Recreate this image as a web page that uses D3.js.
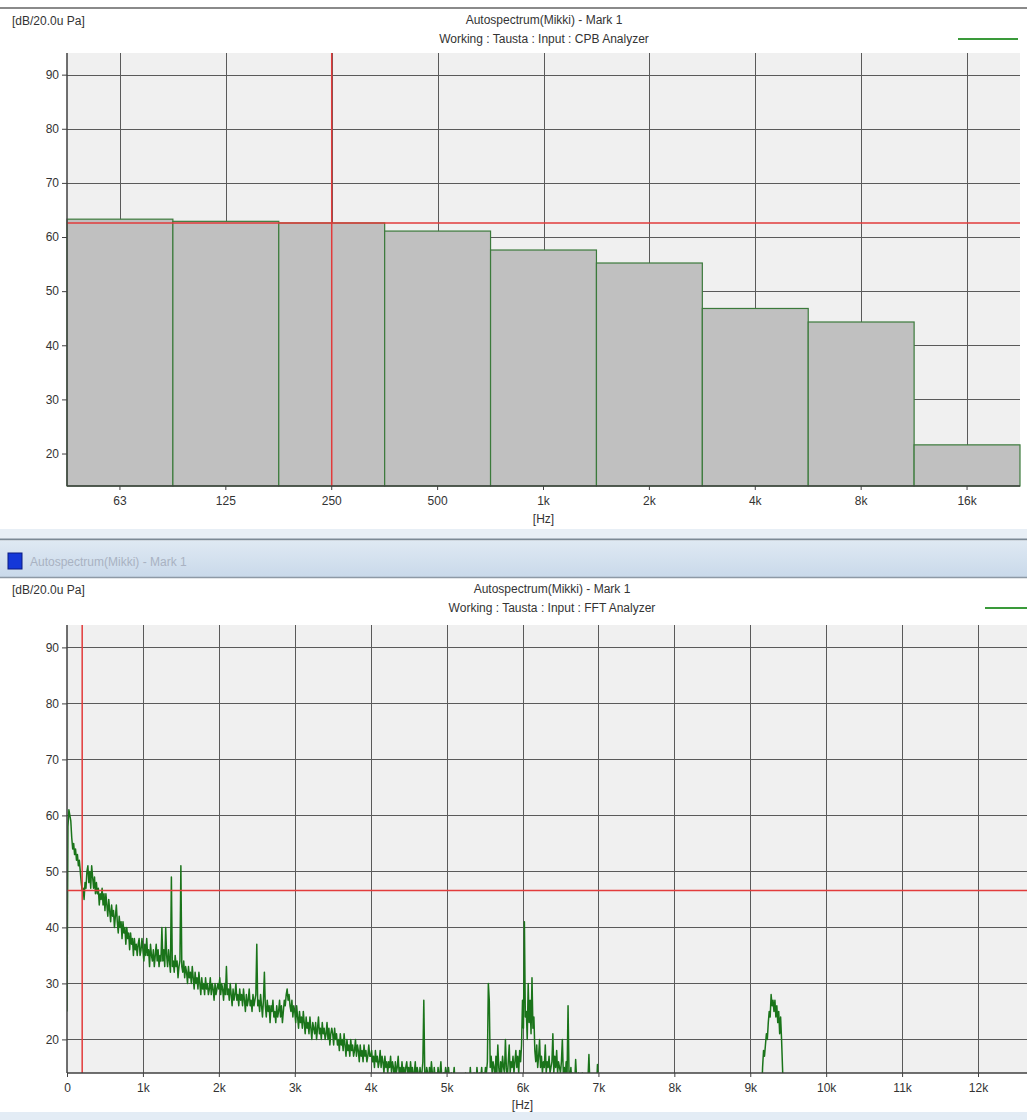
<!DOCTYPE html>
<html>
<head>
<meta charset="utf-8">
<script src="https://cdn.jsdelivr.net/npm/d3@7"></script>
<style>
  html, body { margin: 0; padding: 0; background: #fff; }
  svg text { font-family: "Liberation Sans", Arial, sans-serif; }
</style>
</head>
<body>
<svg id="chart" width="1027" height="1120"></svg>
<script>
// ---- CPB analyzer: octave band levels [dB re 20 uPa] ----
const cpbBands = ["63", "125", "250", "500", "1k", "2k", "4k", "8k", "16k"];
const cpbLevels = [63.3, 62.9, 62.6, 61.1, 57.6, 55.2, 46.8, 44.3, 21.6];
const cpbCursorBand = "250";

// ---- shared level axis ----
const levelTicks = [20, 30, 40, 50, 60, 70, 80, 90];
const levelDomain = [14, 94];

// ---- FFT analyzer: one level per 12.5 Hz line, starting at 0 Hz (one row = 500 Hz) ----
const fftLineHz = 12.5;
const fftLevels = [
  25, 58, 61, 60, 59, 56, 54, 55, 53, 54, 52, 53, 51, 52, 50, 48, 46.6, 47, 45, 48, 47, 50, 51, 48, 50, 47, 51, 49, 47, 49, 46, 48, 46, 47, 44, 46, 45, 47, 44, 46,
  43, 46, 44, 42, 45, 43, 41, 44, 42, 43, 40, 42, 44, 41, 39, 42, 40, 41, 38, 41, 39, 40, 37, 40, 38, 39, 36, 39, 37, 38, 35, 38, 36, 37, 35, 37, 38, 35, 36, 38,
  36, 34, 37, 35, 38, 35, 36, 33, 37, 35, 34, 36, 33, 35, 37, 34, 36, 33, 35, 34, 40, 34, 36, 33, 40, 35, 33, 36, 34, 32, 49, 33, 34, 32, 35, 33, 34, 31, 33, 34,
  51, 33, 32, 34, 31, 33, 32, 30, 33, 31, 32, 30, 33, 31, 29, 32, 30, 31, 29, 32, 30, 28, 31, 29, 30, 28, 31, 29, 30, 28, 29, 31, 28, 30, 29, 27, 30, 28, 29, 30,
  29, 31, 28, 30, 29, 27, 30, 28, 33, 28, 29, 27, 30, 28, 26, 29, 27, 28, 30, 27, 28, 26, 29, 27, 28, 26, 29, 27, 25, 28, 26, 27, 29, 26, 27, 25, 28, 26, 27, 28,
  37, 26, 27, 25, 28, 26, 24, 27, 32, 26, 24, 27, 25, 26, 23, 26, 25, 27, 24, 25, 23, 26, 24, 25, 27, 24, 26, 23, 25, 27, 26, 28, 29, 27, 28, 26, 25, 27, 24, 26,
  25, 23, 26, 24, 22, 25, 23, 24, 22, 25, 23, 21, 24, 22, 23, 21, 24, 22, 20, 23, 22, 21, 23, 20, 22, 24, 21, 22, 20, 23, 21, 22, 20, 21, 23, 20, 22, 19, 21, 22,
  21, 19, 22, 20, 21, 19, 20, 18, 21, 19, 20, 18, 21, 19, 17, 20, 18, 19, 17, 20, 18, 19, 17, 18, 20, 17, 19, 18, 16, 19, 17, 18, 16, 19, 17, 18, 16, 17, 19, 17,
  17, 18, 16, 17, 15, 18, 16, 17, 15, 16, 18, 15, 17, 16, 14, 17, 15, 16, 14, 16, 15, 17, 14, 16, 15, 13, 16, 14, 15, 17, 14, 15, 13, 16, 14, 15, 13, 15, 16, 14,
  15, 13, 16, 14, 15, 13, 14, 16, 13, 15, 14, 12, 15, 13, 14, 16, 27, 14, 13, 15, 14, 12, 15, 13, 16, 14, 12, 15, 13, 14, 12, 15, 13, 14, 16, 13, 12, 14, 13, 15,
  14, 12, 15, 13, 11, 14, 12, 13, 15, 12, 11, 13, 12, 10, 12, 11, 13, 10, 12, 11, 14, 12, 11, 13, 12, 15, 12, 13, 11, 14, 13, 12, 15, 13, 12, 14, 13, 15, 12, 14,
  13, 15, 14, 16, 30, 27, 15, 17, 14, 16, 15, 13, 17, 14, 19, 15, 13, 16, 14, 17, 15, 14, 20, 15, 13, 16, 19, 14, 16, 15, 17, 14, 16, 18, 15, 17, 14, 18, 16, 19,
  27, 22, 41, 24, 25, 20, 30, 23, 27, 21, 31, 22, 24, 18, 16, 19, 15, 17, 20, 15, 17, 14, 16, 15, 19, 14, 16, 15, 17, 14, 15, 16, 21, 14, 17, 15, 18, 14, 16, 15,
  14, 16, 20, 14, 15, 13, 16, 14, 26, 14, 13, 15, 12, 14, 13, 12, 16.4, 13, 12, 14, 12, 13, 11, 14, 12, 11, 13, 12, 11, 13, 17.3, 12, 11, 13, 12, 11, 12, 13, 11, 15.5,
  11, 9
];
// tone around 9.3 kHz, same line spacing
const fftToneStartHz = 9150;
const fftToneLevels = [10, 15, 18, 17, 19, 21, 20, 23, 25, 24, 28, 26, 27, 25, 27, 24, 26, 23, 25, 21, 24, 20, 15, 10];

const fftTicksHz = [0, 1000, 2000, 3000, 4000, 5000, 6000, 7000, 8000, 9000, 10000, 11000, 12000];
const fftTickLabels = ["0", "1k", "2k", "3k", "4k", "5k", "6k", "7k", "8k", "9k", "10k", "11k", "12k"];
const fftCursorHz = 200;

// ---- texts ----
const unitLabel = "[dB/20.0u Pa]";
const titleLine = "Autospectrum(Mikki) - Mark 1";
const cpbSubtitle = "Working : Tausta : Input : CPB Analyzer";
const fftSubtitle = "Working : Tausta : Input : FFT Analyzer";
const freqUnit = "[Hz]";

// ---- styling ----
const C = {
  plotBg: "#f0f0f0",
  grid: "#5a5a5a",
  axis: "#404040",
  text: "#333",
  bar: "#c0c0c0",
  barEdge: "#3b7a3b",
  trace: "#1a741a",
  cursor: "#e23b3b",
  legend: "#3a9a3a"
};

const svg = d3.select("#chart");

// ---------- window chrome ----------
svg.append("rect").attr("x", 0).attr("y", 0).attr("width", 1027).attr("height", 1120).attr("fill", "#fff");
svg.append("line").attr("x1", 0).attr("x2", 1027).attr("y1", 8).attr("y2", 8)
  .attr("stroke", "#8a8a8a").attr("stroke-width", 2);

const defs = svg.append("defs");
const grad = defs.append("linearGradient").attr("id", "barGrad").attr("x1", 0).attr("x2", 0).attr("y1", 0).attr("y2", 1);
grad.append("stop").attr("offset", "0%").attr("stop-color", "#dfe9f3");
grad.append("stop").attr("offset", "100%").attr("stop-color", "#c9d9ea");

svg.append("rect").attr("x", 0).attr("y", 529).attr("width", 1027).attr("height", 10).attr("fill", "#e8eff6");
svg.append("line").attr("x1", 0).attr("x2", 1027).attr("y1", 539.5).attr("y2", 539.5)
  .attr("stroke", "#7c8995").attr("stroke-width", 2);
svg.append("rect").attr("x", 0).attr("y", 540.5).attr("width", 1027).attr("height", 36.5).attr("fill", "url(#barGrad)");
svg.append("line").attr("x1", 0).attr("x2", 1027).attr("y1", 577.5).attr("y2", 577.5)
  .attr("stroke", "#8d99a5").attr("stroke-width", 1.5);
svg.append("rect").attr("x", 8).attr("y", 553).attr("width", 14).attr("height", 16)
  .attr("fill", "#1438d8").attr("stroke", "#0a1a80").attr("stroke-width", 1);
svg.append("text").attr("x", 30).attr("y", 566).attr("font-size", 12).attr("fill", "#a9b2c2").text(titleLine);
svg.append("rect").attr("x", 0).attr("y", 1112).attr("width", 1027).attr("height", 8).attr("fill", "#e3ecf5");

// ---------- panel header ----------
function header(y0, subtitle, cx, legendX1, legendX2) {
  svg.append("text").attr("x", 12).attr("y", y0 + 5).attr("font-size", 12).attr("fill", C.text).text(unitLabel);
  svg.append("text").attr("x", cx).attr("y", y0 + 4).attr("text-anchor", "middle")
    .attr("font-size", 12).attr("fill", C.text).text(titleLine);
  svg.append("text").attr("x", cx).attr("y", y0 + 23).attr("text-anchor", "middle")
    .attr("font-size", 12).attr("fill", C.text).text(subtitle);
  svg.append("line").attr("x1", legendX1).attr("x2", legendX2).attr("y1", y0 + 19).attr("y2", y0 + 19)
    .attr("stroke", C.legend).attr("stroke-width", 2);
}

function styleAxis(g) {
  g.selectAll("path.domain").remove();
  g.selectAll(".tick line").attr("stroke", C.axis);
  g.selectAll(".tick text").attr("fill", C.text).attr("font-size", 12)
    .attr("font-family", "\"Liberation Sans\", Arial, sans-serif");
}

// ================= CPB panel =================
{
  const P = { left: 67, right: 1020, top: 53, bottom: 486 };
  header(20, cpbSubtitle, 544, 958, 1018);

  const x = d3.scaleBand().domain(cpbBands).range([P.left, P.right]).padding(0);
  const y = d3.scaleLinear().domain(levelDomain).range([P.bottom, P.top]);

  svg.append("rect").attr("x", P.left).attr("y", P.top)
    .attr("width", P.right - P.left).attr("height", P.bottom - P.top).attr("fill", C.plotBg);

  // grid
  svg.append("g").selectAll("line").data(levelTicks).join("line")
    .attr("x1", P.left).attr("x2", P.right)
    .attr("y1", d => Math.round(y(d)) + 0.5).attr("y2", d => Math.round(y(d)) + 0.5)
    .attr("stroke", C.grid).attr("stroke-width", 1);
  svg.append("g").selectAll("line").data(cpbBands).join("line")
    .attr("x1", d => Math.round(x(d) + x.bandwidth() / 2) + 0.5)
    .attr("x2", d => Math.round(x(d) + x.bandwidth() / 2) + 0.5)
    .attr("y1", P.top).attr("y2", P.bottom)
    .attr("stroke", C.grid).attr("stroke-width", 1);

  // bars
  svg.append("g").selectAll("rect").data(cpbBands).join("rect")
    .attr("x", d => x(d))
    .attr("y", (d, i) => y(cpbLevels[i]))
    .attr("width", x.bandwidth())
    .attr("height", (d, i) => P.bottom - y(cpbLevels[i]))
    .attr("fill", C.bar).attr("stroke", C.barEdge).attr("stroke-width", 1.2);

  // cursor
  const cIdx = cpbBands.indexOf(cpbCursorBand);
  const cx = x(cpbCursorBand) + x.bandwidth() / 2;
  svg.append("line").attr("x1", cx).attr("x2", cx).attr("y1", P.top).attr("y2", P.bottom)
    .attr("stroke", C.cursor).attr("stroke-width", 1.5);
  svg.append("line").attr("x1", P.left).attr("x2", P.right)
    .attr("y1", y(cpbLevels[cIdx])).attr("y2", y(cpbLevels[cIdx]))
    .attr("stroke", C.cursor).attr("stroke-width", 1.5);

  // axes
  svg.append("line").attr("x1", P.left).attr("x2", P.left).attr("y1", P.top).attr("y2", P.bottom)
    .attr("stroke", C.axis).attr("stroke-width", 1.5);
  svg.append("line").attr("x1", P.left).attr("x2", P.right).attr("y1", P.bottom).attr("y2", P.bottom)
    .attr("stroke", C.axis).attr("stroke-width", 1.5);

  const ya = svg.append("g").attr("transform", `translate(${P.left},0)`)
    .call(d3.axisLeft(y).tickValues(levelTicks).tickSize(5).tickPadding(3).tickSizeOuter(0));
  styleAxis(ya);
  const xa = svg.append("g").attr("transform", `translate(0,${P.bottom})`)
    .call(d3.axisBottom(x).tickSize(4).tickPadding(6).tickSizeOuter(0));
  styleAxis(xa);

  svg.append("text").attr("x", x("1k") + x.bandwidth() / 2).attr("y", 523)
    .attr("text-anchor", "middle").attr("font-size", 12).attr("fill", C.text).text(freqUnit);
}

// ================= FFT panel =================
{
  const P = { left: 67, right: 1027, top: 625, bottom: 1073 };
  header(589, fftSubtitle, 552, 985, 1027);

  const x = d3.scaleLinear().domain([0, 12000]).range([P.left, 978]);
  const y = d3.scaleLinear().domain(levelDomain).range([P.bottom, P.top]);

  svg.append("rect").attr("x", P.left).attr("y", P.top)
    .attr("width", P.right - P.left).attr("height", P.bottom - P.top).attr("fill", C.plotBg);

  defs.append("clipPath").attr("id", "fftClip").append("rect")
    .attr("x", P.left).attr("y", P.top).attr("width", P.right - P.left).attr("height", P.bottom - P.top);

  // grid
  svg.append("g").selectAll("line").data(levelTicks).join("line")
    .attr("x1", P.left).attr("x2", P.right)
    .attr("y1", d => Math.round(y(d)) + 0.5).attr("y2", d => Math.round(y(d)) + 0.5)
    .attr("stroke", C.grid).attr("stroke-width", 1);
  svg.append("g").selectAll("line").data(fftTicksHz.slice(1)).join("line")
    .attr("x1", d => Math.round(x(d)) + 0.5).attr("x2", d => Math.round(x(d)) + 0.5)
    .attr("y1", P.top).attr("y2", P.bottom)
    .attr("stroke", C.grid).attr("stroke-width", 1);

  // spectrum traces
  const line = d3.line().x(d => x(d[0])).y(d => y(d[1]));
  const low = fftLevels.map((v, i) => [i * fftLineHz, v]);
  const tone = fftToneLevels.map((v, i) => [fftToneStartHz + i * fftLineHz, v]);
  const traces = svg.append("g").attr("clip-path", "url(#fftClip)");
  [low, tone].forEach(seg => {
    traces.append("path").datum(seg).attr("d", line)
      .attr("fill", "none").attr("stroke", C.trace).attr("stroke-width", 1.5)
      .attr("stroke-linejoin", "round");
  });

  // cursor
  const cLevel = fftLevels[fftCursorHz / fftLineHz];
  svg.append("line").attr("x1", x(fftCursorHz)).attr("x2", x(fftCursorHz)).attr("y1", P.top).attr("y2", P.bottom)
    .attr("stroke", C.cursor).attr("stroke-width", 1.5);
  svg.append("line").attr("x1", P.left).attr("x2", P.right).attr("y1", y(cLevel)).attr("y2", y(cLevel))
    .attr("stroke", C.cursor).attr("stroke-width", 1.5);

  // axes
  svg.append("line").attr("x1", P.left).attr("x2", P.left).attr("y1", P.top).attr("y2", P.bottom)
    .attr("stroke", C.axis).attr("stroke-width", 1.5);
  svg.append("line").attr("x1", P.left).attr("x2", P.right).attr("y1", P.bottom).attr("y2", P.bottom)
    .attr("stroke", C.axis).attr("stroke-width", 1.5);

  const ya = svg.append("g").attr("transform", `translate(${P.left},0)`)
    .call(d3.axisLeft(y).tickValues(levelTicks).tickSize(5).tickPadding(3).tickSizeOuter(0));
  styleAxis(ya);
  const xa = svg.append("g").attr("transform", `translate(0,${P.bottom})`)
    .call(d3.axisBottom(x).tickValues(fftTicksHz).tickFormat((d, i) => fftTickLabels[i])
      .tickSize(4).tickPadding(6).tickSizeOuter(0));
  styleAxis(xa);

  svg.append("text").attr("x", x(6000)).attr("y", 1109)
    .attr("text-anchor", "middle").attr("font-size", 12).attr("fill", C.text).text(freqUnit);
}
</script>
</body>
</html>
